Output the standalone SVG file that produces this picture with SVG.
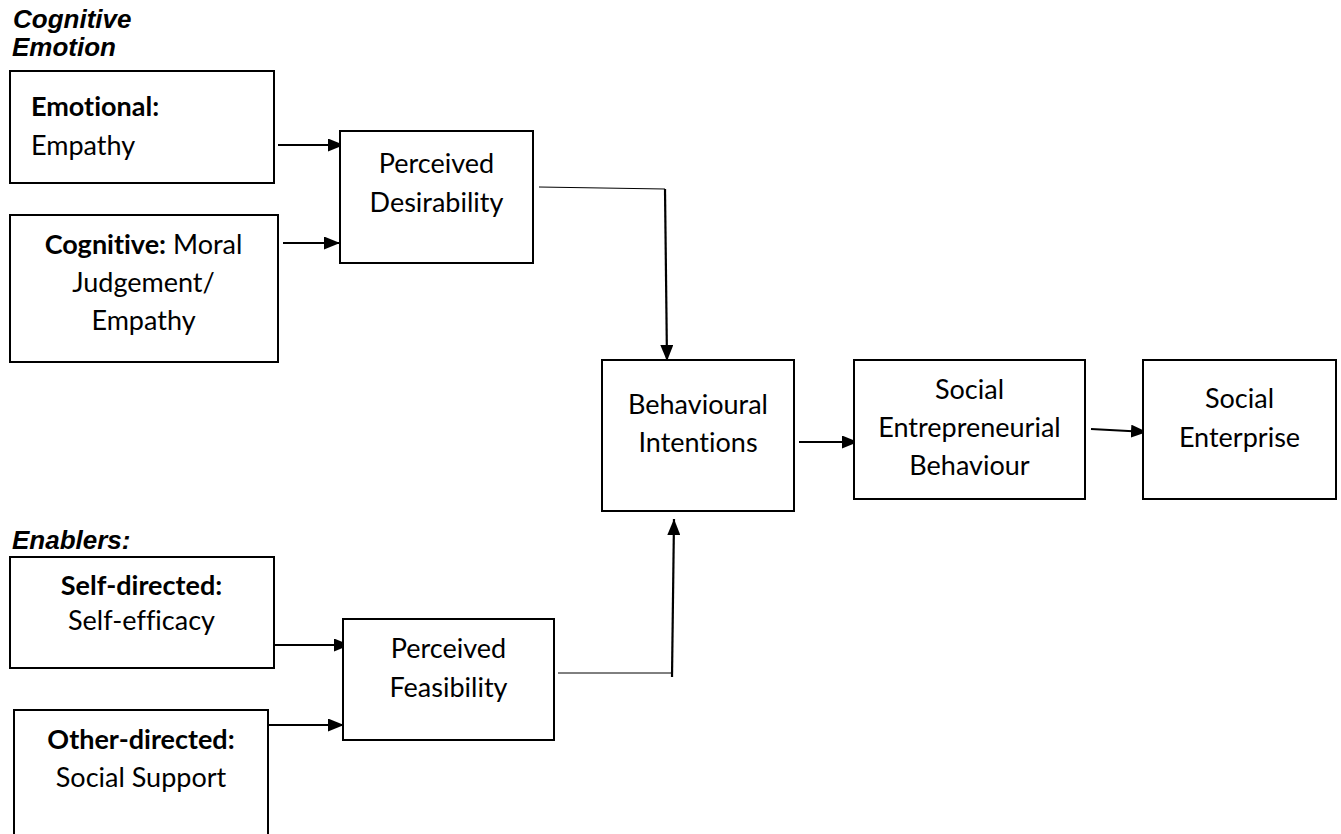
<svg xmlns="http://www.w3.org/2000/svg" width="1341" height="834" viewBox="0 0 1341 834">
<style>
.box{fill:#fff;stroke:#000;stroke-width:2}
.t{font-family:Lato,"Open Sans","Liberation Sans",sans-serif;font-size:27px;fill:#000;font-variant-ligatures:none;font-feature-settings:"liga" 0,"clig" 0,"dlig" 0}
.c{text-anchor:middle}
.b{font-weight:bold}
.h{font-family:"Liberation Sans",Arial,sans-serif;font-size:26px;font-weight:bold;font-style:italic;fill:#000}
.ar{stroke:#000;stroke-width:2.2;fill:none;marker-end:url(#ah)}
.thin{stroke:#000;stroke-width:1;fill:none}
</style>
<defs>
<marker id="ah" markerUnits="userSpaceOnUse" markerWidth="16" markerHeight="13" refX="16" refY="6.5" orient="auto">
<path d="M0,0 L16,6.5 L0,13 z" fill="#000"/>
</marker>
</defs>
<rect width="1341" height="834" fill="#fff"/>
<g id="labels">
<text class="h" x="13" y="28">Cognitive</text>
<text class="h" x="12" y="56">Emotion</text>
<text class="h" x="12" y="549">Enablers:</text>
</g>
<g id="connectors">
<line class="ar" x1="278" y1="145" x2="344" y2="145"/>
<line class="ar" x1="283" y1="243" x2="340" y2="243"/>
<line class="thin" x1="539" y1="187" x2="665" y2="189"/>
<line class="ar" x1="665" y1="189" x2="667" y2="361"/>
<line class="ar" x1="274" y1="645" x2="350" y2="645"/>
<line class="ar" x1="268" y1="725" x2="344" y2="725"/>
<line class="thin" x1="558" y1="673" x2="673" y2="673"/>
<line class="ar" x1="672" y1="677" x2="674" y2="519"/>
<line class="ar" x1="799" y1="442" x2="858" y2="442"/>
<line class="ar" x1="1091" y1="429" x2="1147" y2="432"/>
</g>
<g id="emotional">
<rect class="box" x="10" y="71" width="264" height="112"/>
<text class="t b" x="31" y="116">Emotional:</text>
<text class="t" x="31" y="155">Empathy</text>
</g>
<g id="cognitive">
<rect class="box" x="10" y="215" width="268" height="147"/>
<text class="t c" x="143.5" y="254"><tspan class="b">Cognitive:</tspan> Moral</text>
<text class="t c" x="143.5" y="292">Judgement/</text>
<text class="t c" x="143.5" y="330">Empathy</text>
</g>
<g id="desirability">
<rect class="box" x="340" y="131" width="193" height="132"/>
<text class="t c" x="436.5" y="173">Perceived</text>
<text class="t c" x="436.5" y="212">Desirability</text>
</g>
<g id="intentions">
<rect class="box" x="602" y="360" width="192" height="151"/>
<text class="t c" x="698" y="414">Behavioural</text>
<text class="t c" x="698" y="452">Intentions</text>
</g>
<g id="seb">
<rect class="box" x="854" y="360" width="231" height="139"/>
<text class="t c" x="969.5" y="399">Social</text>
<text class="t c" x="969.5" y="437">Entrepreneurial</text>
<text class="t c" x="969.5" y="475">Behaviour</text>
</g>
<g id="enterprise">
<rect class="box" x="1143" y="360" width="193" height="139"/>
<text class="t c" x="1239.5" y="408">Social</text>
<text class="t c" x="1239.5" y="447">Enterprise</text>
</g>
<g id="selfdirected">
<rect class="box" x="10" y="557" width="264" height="111"/>
<text class="t c b" x="141.5" y="595">Self-directed:</text>
<text class="t c" x="141.5" y="630">Self-efficacy</text>
</g>
<g id="otherdirected">
<rect class="box" x="14" y="710" width="254" height="134"/>
<text class="t c b" x="141" y="749">Other-directed:</text>
<text class="t c" x="141" y="787">Social Support</text>
</g>
<g id="feasibility">
<rect class="box" x="343" y="619" width="211" height="121"/>
<text class="t c" x="448.5" y="658">Perceived</text>
<text class="t c" x="448.5" y="697">Feasibility</text>
</g>
</svg>
